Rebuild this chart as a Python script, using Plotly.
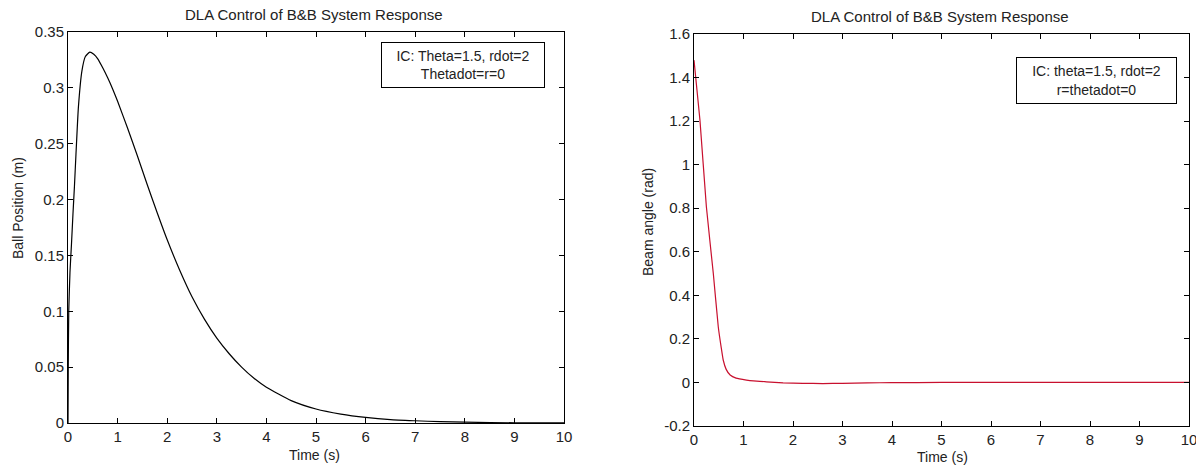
import plotly.graph_objects as go

# Left: ball position
t_ball = [0, 0.005, 0.015, 0.04, 0.07, 0.1, 0.13, 0.16, 0.21, 0.28, 0.35, 0.44, 0.52, 0.6, 0.7, 0.8, 0.9, 1.0,
          1.2, 1.4, 1.6, 1.8, 2.0, 2.25, 2.5, 2.75, 3.0, 3.25, 3.5, 3.75, 4.0, 4.5, 5.0, 5.5, 6.0, 6.5, 7.0, 7.5,
          8.0, 9.0, 10.0]
r_ball = [0, 0.05, 0.1, 0.135, 0.16, 0.187, 0.212, 0.24, 0.283, 0.315, 0.328, 0.332, 0.330, 0.326, 0.318, 0.309,
          0.299, 0.288, 0.264, 0.239, 0.213, 0.188, 0.164, 0.137, 0.113, 0.093, 0.076, 0.062, 0.050, 0.040, 0.032,
          0.020, 0.0125, 0.008, 0.005, 0.003, 0.002, 0.0012, 0.0007, 0.0002, 0.0001]

# Right: beam angle
t_beam = [0, 0.12, 0.25, 0.39, 0.49, 0.55, 0.59, 0.65, 0.73, 0.85, 1.06, 1.2, 1.46, 1.8, 2.2, 2.6, 3.0, 3.5, 4.0,
          5.0, 6.0, 7.0, 8.0, 9.0, 10.0]
th_beam = [1.48, 1.205, 0.807, 0.50, 0.256, 0.16, 0.103, 0.06, 0.034, 0.02, 0.011, 0.007, 0.003, -0.002, -0.004,
           -0.005, -0.004, -0.002, -0.001, 0, 0, 0, 0, 0, 0]

x_ticks = [0, 1, 2, 3, 4, 5, 6, 7, 8, 9, 10]
y1_ticks = [0, 0.05, 0.1, 0.15, 0.2, 0.25, 0.3, 0.35]
y1_text = ["0", "0.05", "0.1", "0.15", "0.2", "0.25", "0.3", "0.35"]
y2_ticks = [-0.2, 0, 0.2, 0.4, 0.6, 0.8, 1.0, 1.2, 1.4, 1.6]
y2_text = ["-0.2", "0", "0.2", "0.4", "0.6", "0.8", "1", "1.2", "1.4", "1.6"]

title_text = "DLA Control of B&B System Response"
legend1 = "IC: Theta=1.5, rdot=2<br>Thetadot=r=0"
legend2 = "IC: theta=1.5, rdot=2<br>r=thetadot=0"

W, H = 1196, 468
FONT = "Liberation Sans, Arial, sans-serif"
TXT = "#222222"

fig = go.Figure()
fig.add_trace(go.Scatter(x=t_ball, y=r_ball, mode="lines",
                         line=dict(color="black", width=1.2, shape="spline", smoothing=0.5),
                         xaxis="x", yaxis="y", showlegend=False))
fig.add_trace(go.Scatter(x=t_beam, y=th_beam, mode="lines",
                         line=dict(color="#c8102e", width=1.2, shape="spline", smoothing=0.4),
                         xaxis="x2", yaxis="y2", showlegend=False))


def ax(domain, rng, tickvals, ticktext=None, anchor=None):
    d = dict(domain=domain, range=rng, tickvals=tickvals, showline=True, linecolor="black", linewidth=1,
             mirror="ticks", ticks="inside", ticklen=5, tickcolor="black", showgrid=False, zeroline=False,
             automargin=False, ticklabeloverflow="allow",
             tickfont=dict(family=FONT, size=15, color=TXT), anchor=anchor)
    if ticktext is not None:
        d["ticktext"] = ticktext
    return d


l1, r1, t1, b1 = 68, 564, 32, 423
l2, r2, t2, b2 = 694, 1189, 34, 426

fig.update_layout(
    width=W, height=H, margin=dict(l=0, r=0, t=0, b=0, autoexpand=False),
    paper_bgcolor="white", plot_bgcolor="white",
    font=dict(family=FONT, color=TXT),
    xaxis=ax([l1 / W, r1 / W], [0, 10], x_ticks, anchor="y"),
    yaxis=ax([(H - b1) / H, (H - t1) / H], [0, 0.35], y1_ticks, y1_text, anchor="x"),
    xaxis2=ax([l2 / W, r2 / W], [0, 10], x_ticks, anchor="y2"),
    yaxis2=ax([(H - b2) / H, (H - t2) / H], [-0.2, 1.6], y2_ticks, y2_text, anchor="x2"),
)

anns = [
    dict(x=314 / W, y=1 - 15 / H, text=title_text, font=dict(size=15)),
    dict(x=940 / W, y=1 - 17 / H, text=title_text, font=dict(size=15)),
    dict(x=314 / W, y=1 - 455 / H, text="Time (s)", font=dict(size=14)),
    dict(x=942 / W, y=1 - 457 / H, text="Time (s)", font=dict(size=14)),
    dict(x=18 / W, y=1 - 208 / H, text="Ball Position (m)", textangle=-90, font=dict(size=14)),
    dict(x=648 / W, y=1 - 222 / H, text="Beam angle (rad)", textangle=-90, font=dict(size=14)),
]
for a in anns:
    a.update(xref="paper", yref="paper", showarrow=False, xanchor="center", yanchor="middle")
    a["font"].update(family=FONT, color=TXT)
    fig.add_annotation(**a)

for text, x0, x1, y0, y1 in [(legend1, 382, 544, 43, 87), (legend2, 1017, 1176, 58, 103)]:
    fig.add_annotation(xref="paper", yref="paper", x=(x0 + x1) / 2 / W, y=1 - (y0 + y1) / 2 / H,
                       text=text, showarrow=False, xanchor="center", yanchor="middle", align="center",
                       width=x1 - x0 - 2, height=y1 - y0 - 2, bordercolor="black", borderwidth=1,
                       bgcolor="white", font=dict(family=FONT, size=14, color=TXT))

fig.write_html("out.html", config={"displayModeBar": False, "staticPlot": True},
               post_script="document.body.style.margin='0';document.body.style.padding='0';"
                           "document.body.style.overflow='hidden';")
